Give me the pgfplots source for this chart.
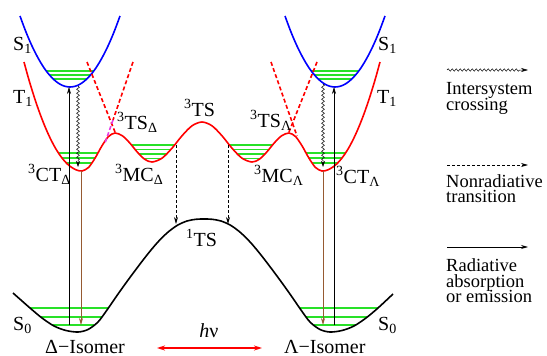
\documentclass[border=0pt]{standalone}
\usepackage{fontspec}
\setmainfont{Liberation Serif}
\usepackage{pgfplots}
\pgfplotsset{compat=1.18}
\usetikzlibrary{arrows.meta,decorations.pathmorphing}
\definecolor{lvl}{RGB}{40,225,40}
\definecolor{brn}{RGB}{150,90,50}
\definecolor{mag}{RGB}{230,60,230}
\newcommand{\lab}{\rmfamily\fontsize{20}{20}\selectfont}
\newcommand{\leg}{\rmfamily\fontsize{18.5}{15.5}\selectfont}
\begin{document}
\begin{tikzpicture}
\begin{axis}[scale only axis, width=547pt, height=356pt,
  xmin=0, xmax=547, ymin=0, ymax=356, y dir=reverse,
  axis lines=none, clip=false]
\addplot[draw=none] coordinates {(0,0) (547,356)};
% vibrational levels
\addplot[lvl, line width=1.1pt] coordinates {(46.3,71) (93.7,71)};
\addplot[lvl, line width=1.1pt] coordinates {(49.4,75) (90.6,75)};
\addplot[lvl, line width=1.1pt] coordinates {(53.2,79) (86.8,79)};
\addplot[lvl, line width=1.1pt] coordinates {(311.3,71) (358.7,71)};
\addplot[lvl, line width=1.1pt] coordinates {(314.4,75) (355.6,75)};
\addplot[lvl, line width=1.1pt] coordinates {(318.2,79) (351.8,79)};
\addplot[lvl, line width=1.1pt] coordinates {(58.4,153) (97.9,153)};
\addplot[lvl, line width=1.1pt] coordinates {(62,158) (95.1,158)};
\addplot[lvl, line width=1.1pt] coordinates {(66.3,163) (92,163)};
\addplot[lvl, line width=1.1pt] coordinates {(306.1,153) (345.6,153)};
\addplot[lvl, line width=1.1pt] coordinates {(308.9,158) (342,158)};
\addplot[lvl, line width=1.1pt] coordinates {(312,163) (337.7,163)};
\addplot[lvl, line width=1.1pt] coordinates {(131.5,145) (174.6,145)};
\addplot[lvl, line width=1.1pt] coordinates {(135.1,149.5) (170.9,149.5)};
\addplot[lvl, line width=1.1pt] coordinates {(139,154) (166.8,154)};
\addplot[lvl, line width=1.1pt] coordinates {(143.7,158.5) (161.6,158.5)};
\addplot[lvl, line width=1.1pt] coordinates {(229.4,145) (272.5,145)};
\addplot[lvl, line width=1.1pt] coordinates {(233.1,149.5) (268.9,149.5)};
\addplot[lvl, line width=1.1pt] coordinates {(237.2,154) (265,154)};
\addplot[lvl, line width=1.1pt] coordinates {(242.4,158.5) (260.3,158.5)};
\addplot[lvl, line width=1.1pt] coordinates {(30,308) (108.3,308)};
\addplot[lvl, line width=1.1pt] coordinates {(40.8,317) (101.75,317)};
\addplot[lvl, line width=1.1pt] coordinates {(52.5,325) (94,325)};
\addplot[lvl, line width=1.1pt] coordinates {(299.7,308) (378,308)};
\addplot[lvl, line width=1.1pt] coordinates {(306.25,317) (367.2,317)};
\addplot[lvl, line width=1.1pt] coordinates {(314,325) (355.5,325)};
% S1 curves
\addplot[blue, line width=1.6pt, smooth] coordinates {(20,16) (25,29.5) (30,41.6) (35,52.2) (40,61.4) (45,69.3) (50,75.6) (55,80.6) (60,84.2) (65,86.3) (70,87) (75,86.3) (80,84.2) (85,80.6) (90,75.6) (95,69.3) (100,61.4) (105,52.2) (110,41.6) (115,29.5) (120,16)};
\addplot[blue, line width=1.6pt, smooth] coordinates {(285,16) (290,29.5) (295,41.6) (300,52.2) (305,61.4) (310,69.3) (315,75.6) (320,80.6) (325,84.2) (330,86.3) (335,87) (340,86.3) (345,84.2) (350,80.6) (355,75.6) (360,69.3) (365,61.4) (370,52.2) (375,41.6) (380,29.5) (385,16)};
% T1 curve
\addplot[red, line width=1.6pt, smooth] coordinates {(24,62) (27,73) (30,83.4) (35,99.4) (40,113.8) (45,126.6) (50,137.8) (55,147.4) (60,155.3) (65,161.6) (70,166.3) (76,169.8) (82,171) (88.6,167.4) (95.2,157.9) (101.8,146.1) (108.4,136.6) (115,133) (122.4,135.8) (129.8,143.0) (137.2,152.0) (144.6,159.2) (152,162) (162,158.2) (172,148.2) (182,135.8) (192,125.8) (202,122) (212,125.8) (222,135.8) (232,148.2) (242,158.2) (252,162) (259.4,159.2) (266.8,152.0) (274.2,143.0) (281.6,135.8) (289,133) (295.6,136.6) (302.2,146.1) (308.8,157.9) (315.4,167.4) (322,171) (328,169.8) (334,166.3) (339,161.6) (344,155.3) (349,147.4) (354,137.8) (359,126.6) (364,113.8) (369,99.4) (374,83.4) (377,73) (380,62)};
% S0 curve
\addplot[black, line width=1.6pt, smooth] coordinates {(13,293) (30,308) (42,318) (54,326) (66,330.5) (78,332) (88,329.5) (98,322) (107,310) (117,295.5) (127,281.5) (137,268) (147,255) (157,243) (167,233) (177,225.5) (187,221) (196,219.3) (204,219) (212,219.3) (221,221) (231,225.5) (241,233) (251,243) (261,255) (271,268) (281,281.5) (291,295.5) (301,310) (310,322) (320,329.5) (330,332) (342,330.5) (354,326) (366,318) (378,308) (393,294)};
% dashed crossing lines
\addplot[red, line width=1.6pt, dash pattern=on 4pt off 2.5pt] coordinates {(87,62) (115,132)};
\addplot[red, line width=1.6pt, dash pattern=on 4pt off 2.5pt] coordinates {(133,62) (113,120)};
\addplot[mag, line width=1.6pt, dash pattern=on 4pt off 2.5pt] coordinates {(113,120) (105,143)};
\addplot[red, line width=1.6pt, dash pattern=on 4pt off 2.5pt] coordinates {(317,62) (289,132)};
\addplot[red, line width=1.6pt, dash pattern=on 4pt off 2.5pt] coordinates {(271,62) (297,136)};
% transitions
\addplot[black, line width=0.6pt, -{Stealth[length=7pt,width=4pt]}] coordinates {(69,325) (69,87)};
\addplot[black, line width=0.6pt, -{Stealth[length=7pt,width=4pt]}] coordinates {(334,325) (334,87)};
\addplot[brn, line width=0.7pt, -{Stealth[length=7pt,width=4pt]}] coordinates {(81,171) (81,325)};
\addplot[brn, line width=0.7pt, -{Stealth[length=7pt,width=4pt]}] coordinates {(323,171) (323,325)};
\addplot[black, line width=0.5pt, decorate, decoration={snake, amplitude=1.4pt, segment length=4pt, post length=6pt}, -{Stealth[length=6pt,width=4pt]}] coordinates {(78,86) (78,167)};
\addplot[black, line width=0.5pt, decorate, decoration={snake, amplitude=1.4pt, segment length=4pt, post length=6pt}, -{Stealth[length=6pt,width=4pt]}] coordinates {(323,84) (323,167)};
\addplot[black, line width=0.7pt, dash pattern=on 3pt off 2pt, -{Stealth[length=7pt,width=4pt]}] coordinates {(176,145) (176,224)};
\addplot[black, line width=0.7pt, dash pattern=on 3pt off 2pt, -{Stealth[length=7pt,width=4pt]}] coordinates {(228,145) (228,224)};
\addplot[red, line width=1.4pt, {Stealth[length=8pt,width=5pt]}-{Stealth[length=8pt,width=5pt]}] coordinates {(157,348) (262,348)};
% legend
\addplot[black, line width=0.5pt, decorate, decoration={snake, amplitude=1.2pt, segment length=4pt, post length=7pt}, -{Stealth[length=7pt,width=4pt]}] coordinates {(447,70) (528,70)};
\addplot[black, line width=0.7pt, dash pattern=on 3pt off 2pt, -{Stealth[length=7pt,width=4pt]}] coordinates {(447,165) (528,165)};
\addplot[black, line width=0.8pt, -{Stealth[length=7pt,width=4pt]}] coordinates {(447,247) (528,247)};
% labels
\node[anchor=base west, inner sep=0pt, font=\lab] at (axis cs:13,50) {S\textsubscript{1}};
\node[anchor=base west, inner sep=0pt, font=\lab] at (axis cs:13,103) {T\textsubscript{1}};
\node[anchor=base west, inner sep=0pt, font=\lab] at (axis cs:378,50) {S\textsubscript{1}};
\node[anchor=base west, inner sep=0pt, font=\lab] at (axis cs:377,103) {T\textsubscript{1}};
\node[anchor=base west, inner sep=0pt, font=\lab] at (axis cs:13,330) {S\textsubscript{0}};
\node[anchor=base west, inner sep=0pt, font=\lab] at (axis cs:378,330) {S\textsubscript{0}};
\node[anchor=base west, inner sep=0pt, font=\lab] at (axis cs:117,129) {\textsuperscript{3}TS\textsubscript{Δ}};
\node[anchor=base west, inner sep=0pt, font=\lab] at (axis cs:184,116) {\textsuperscript{3}TS};
\node[anchor=base west, inner sep=0pt, font=\lab] at (axis cs:250,127) {\textsuperscript{3}TS\textsubscript{Λ}};
\node[anchor=base west, inner sep=0pt, font=\lab] at (axis cs:115,181) {\textsuperscript{3}MC\textsubscript{Δ}};
\node[anchor=base west, inner sep=0pt, font=\lab] at (axis cs:254,182) {\textsuperscript{3}MC\textsubscript{Λ}};
\node[anchor=base west, inner sep=0pt, font=\lab] at (axis cs:28,181) {\textsuperscript{3}CT\textsubscript{Δ}};
\node[anchor=base west, inner sep=0pt, font=\lab] at (axis cs:336,183) {\textsuperscript{3}CT\textsubscript{Λ}};
\node[anchor=base west, inner sep=0pt, font=\lab] at (axis cs:186,246) {\textsuperscript{1}TS};
\node[anchor=base west, inner sep=0pt, font=\lab] at (axis cs:45,353) {Δ−Isomer};
\node[anchor=base west, inner sep=0pt, font=\lab] at (axis cs:284,353) {Λ−Isomer};
\node[anchor=base, inner sep=0pt, font=\lab] at (axis cs:209,337) {\textit{h}ν};
\node[anchor=base west, inner sep=0pt, font=\leg] at (axis cs:446,94) {Intersystem};
\node[anchor=base west, inner sep=0pt, font=\leg] at (axis cs:446,110) {crossing};
\node[anchor=base west, inner sep=0pt, font=\leg] at (axis cs:446,187) {Nonradiative};
\node[anchor=base west, inner sep=0pt, font=\leg] at (axis cs:446,202) {transition};
\node[anchor=base west, inner sep=0pt, font=\leg] at (axis cs:446,271) {Radiative};
\node[anchor=base west, inner sep=0pt, font=\leg] at (axis cs:446,287) {absorption};
\node[anchor=base west, inner sep=0pt, font=\leg] at (axis cs:446,302) {or emission};
\end{axis}
\end{tikzpicture}
\end{document}
